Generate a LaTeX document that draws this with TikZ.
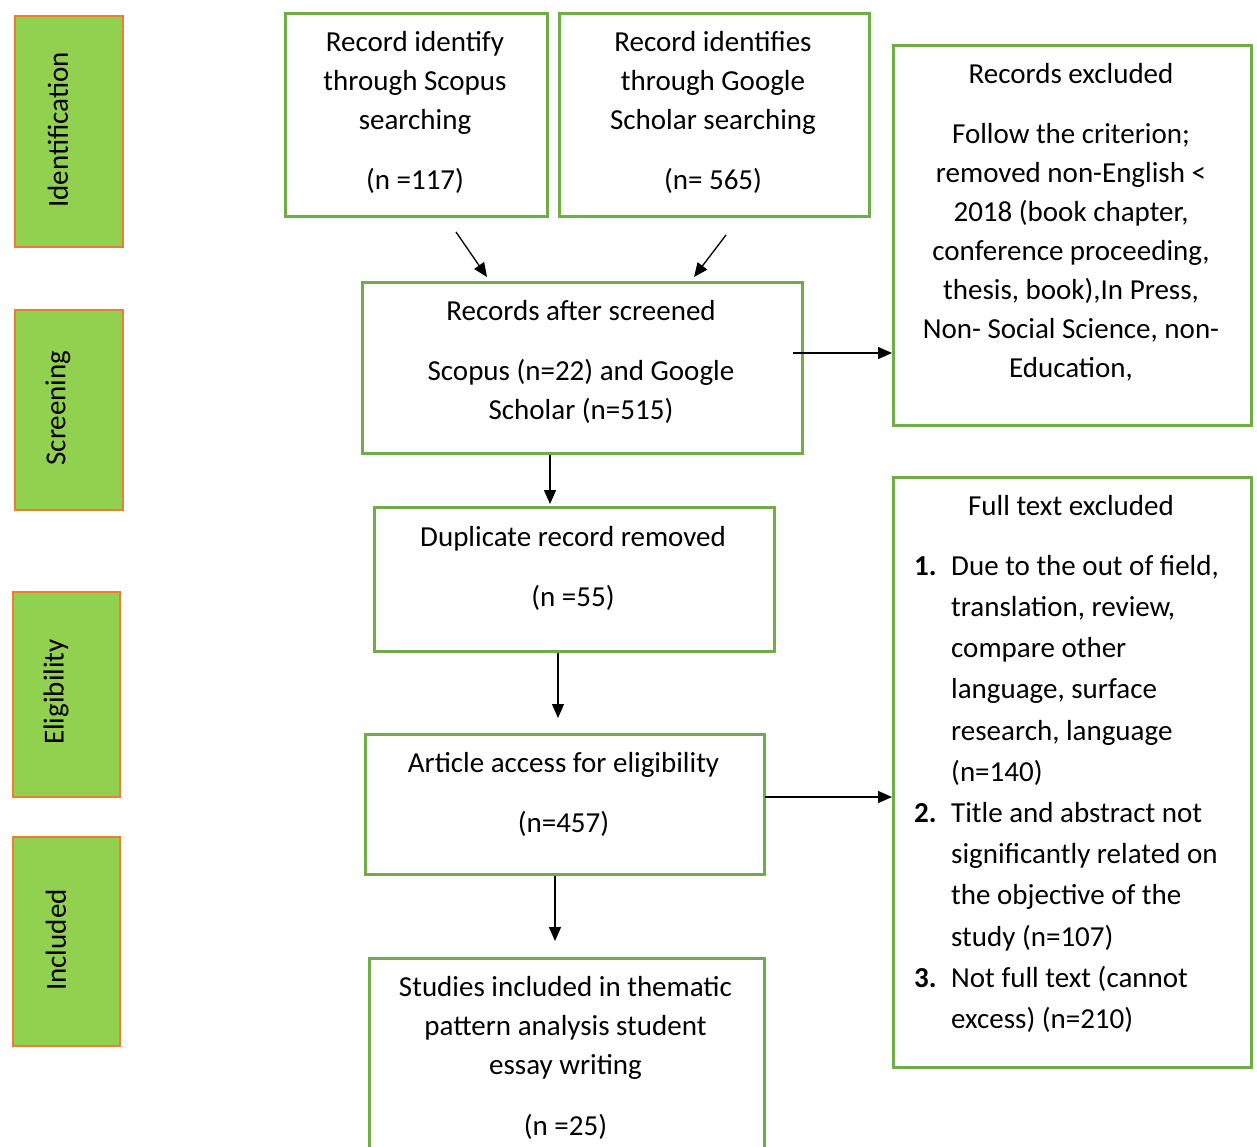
\documentclass[tikz,border=0pt]{standalone}
\usepackage{fontspec}
\setmainfont{Carlito}
\usetikzlibrary{arrows.meta}
\definecolor{boxgreen}{HTML}{70AD47}
\definecolor{sidegreen}{HTML}{92D050}
\definecolor{sideorange}{HTML}{ED7D31}
\begin{document}
\begin{tikzpicture}[x=1pt,y=-1pt,
  box/.style={draw=boxgreen, line width=2.5pt, anchor=north west, inner sep=0pt},
  side/.style={fill=sidegreen, draw=sideorange, line width=1.5pt, anchor=north west, inner sep=0pt},
  sidetxt/.style={rotate=90, inner sep=0pt, font=\fontsize{29}{35}\selectfont},
  txt/.style={align=center, anchor=north, inner sep=0pt, font=\fontsize{29}{39}\selectfont},
  listtxt/.style={align=left, anchor=north west, inner sep=0pt, font=\fontsize{29}{41.2}\selectfont},
  arr/.style={-{Triangle[length=14pt,width=12pt]}, line width=1.3pt, black}]
\useasboundingbox (0,0) rectangle (1257,1146);
% side stage boxes
\node[side, minimum width=108, minimum height=231] (sideA) at (14,15) {};
\node[sidetxt] (sideAt) at (58,130) {Identification};
\node[side, minimum width=108, minimum height=200] (sideB) at (14,309) {};
\node[sidetxt] (sideBt) at (58,408) {Screening};
\node[side, minimum width=107, minimum height=205] (sideC) at (12,591) {};
\node[sidetxt] (sideCt) at (56,692) {Eligibility};
\node[side, minimum width=107, minimum height=209] (sideD) at (12,836) {};
\node[sidetxt] (sideDt) at (56,940) {Included};
% flow boxes
\node[box, minimum width=262, minimum height=203] (scopus) at (284,12) {};
\node[txt] (scopust) at (415,23.7) {\strut Record identify\\through Scopus\\searching\\[21pt](n =117)};
\node[box, minimum width=310, minimum height=203] (google) at (558,12) {};
\node[txt] (googlet) at (713,23.7) {\strut Record identifies\\through Google\\Scholar searching\\[21pt](n= 565)};
\node[box, minimum width=358, minimum height=380] (excl) at (892,44) {};
\node[txt] (exclt) at (1071,55.7) {\strut Records excluded\\[21pt]Follow the criterion;\\removed non-English <\\2018 (book chapter,\\conference proceeding,\\thesis, book),In Press,\\Non- Social Science, non-\\Education,};
\node[box, minimum width=440, minimum height=171] (screen) at (361,281) {};
\node[txt] (screent) at (581,292.7) {\strut Records after screened\\[21pt]Scopus (n=22) and Google\\Scholar (n=515)};
\node[box, minimum width=400, minimum height=144] (dup) at (373,506) {};
\node[txt] (dupt) at (573,518.7) {\strut Duplicate record removed\\[21pt](n =55)};
\node[box, minimum width=399, minimum height=140] (article) at (364,733) {};
\node[txt] (articlet) at (563.5,744.7) {\strut Article access for eligibility\\[21pt](n=457)};
\node[box, minimum width=395, minimum height=210] (studies) at (368,957) {};
\node[txt] (studiest) at (565.5,968.7) {\strut Studies included in thematic\\pattern analysis student\\essay writing\\[22pt](n =25)};
\node[box, minimum width=358, minimum height=590] (full) at (892,476) {};
\node[txt] (fullt) at (1071,487.7) {\strut Full text excluded};
\node[listtxt] (fulllist) at (914,546.2) {\strut\makebox[37pt][l]{\textbf{1.}}Due to the out of field,\\
\hspace*{37pt}translation, review,\\
\hspace*{37pt}compare other\\
\hspace*{37pt}language, surface\\
\hspace*{37pt}research, language\\
\hspace*{37pt}(n=140)\\
\makebox[37pt][l]{\textbf{2.}}Title and abstract not\\
\hspace*{37pt}significantly related on\\
\hspace*{37pt}the objective of the\\
\hspace*{37pt}study (n=107)\\
\makebox[37pt][l]{\textbf{3.}}Not full text (cannot\\
\hspace*{37pt}excess) (n=210)};
% connectors
\coordinate (a1s) at (456,232);
\coordinate (a1e) at (487,277);
\coordinate (a2s) at (726,235);
\coordinate (a2e) at (694,277);
\coordinate (a3s) at (793,353);
\coordinate (a4e) at (550,504);
\coordinate (a5e) at (558,718);
\coordinate (a6s) at (765,797);
\coordinate (a7e) at (555,941);
\draw[arr] (a1s) -- (a1e);
\draw[arr] (a2s) -- (a2e);
\draw[arr] (a3s) -- (a3s -| excl.west);
\draw[arr] (screen.south -| a4e) -- (a4e);
\draw[arr] (dup.south -| a5e) -- (a5e);
\draw[arr] (a6s) -- (a6s -| full.west);
\draw[arr] (article.south -| a7e) -- (a7e);
\end{tikzpicture}
\end{document}
